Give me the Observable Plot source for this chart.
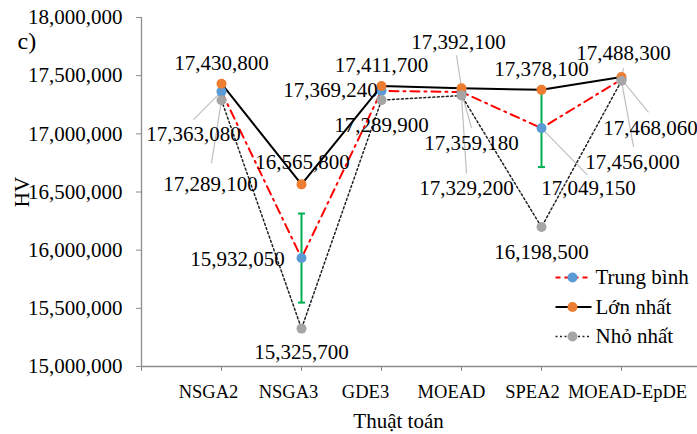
<!DOCTYPE html>
<html>
<head>
<meta charset="utf-8">
<script src="https://cdn.jsdelivr.net/npm/d3@7"></script>
<script src="https://cdn.jsdelivr.net/npm/@observablehq/plot@0.6"></script>
<style>
  html, body { margin: 0; padding: 0; background: #fff; }
  #wrap { position: relative; width: 697px; height: 434px; font-family: "Liberation Serif", serif; }
</style>
</head>
<body>
<div id="wrap"></div>
<script>
// ---- data ----
const categories = ["NSGA2", "NSGA3", "GDE3", "MOEAD", "SPEA2", "MOEAD-EpDE"];
const meanValues = [17363080, 15932050, 17369240, 17359180, 17049150, 17468060];
const maxValues  = [17430800, 16565800, 17411700, 17392100, 17378100, 17488300];
const minValues  = [17289100, 15325700, 17289900, 17329200, 16198500, 17456000];
const meanErrors = [0, 383000, 0, 0, 335000, 0];
const yTicks = [15000000, 15500000, 16000000, 16500000, 17000000, 17500000, 18000000];
const seriesNames = ["Trung bình", "Lớn nhất", "Nhỏ nhất"];
const xTitle = "Thuật toán";
const yTitle = "HV";
const panelTag = "c)";

// ---- layout (pixels) ----
const FONT = "'Liberation Serif', serif";
const W = 697, H = 434, mL = 141, mR = 0, mT = 17, mB = 68;
const xDomain = [-1, 5.95], yDomain = [15000000, 18000000];
const pxX = (W - mL - mR) / (xDomain[1] - xDomain[0]);
const pxY = (H - mT - mB) / (yDomain[1] - yDomain[0]);
const xFromPx = px => xDomain[0] + (px - mL) / pxX;
const yFromPx = py => yDomain[1] - (py - mT) / pxY;
// label centre offsets from their point, [dx, dy] in px
const labelOffMean = [[-28, 43], [-64, 1], [-51, -1], [10, 51], [47, 60], [29, 49]];
const labelOffMax  = [[0, -20], [1, -22], [0, -21], [-3, -46], [0, -21], [2, -24]];
const labelOffMin  = [[-11, 84], [0, 24], [0, 25], [5, 93], [0, 25], [11, 81]];
// leader line ends, [dx, dy] in px (null = no leader)
const leadMean = [[-28, 28], null, null, [10, 36], [46, 47], [27, 33]];
const leadMax  = [null, null, null, [-5, -33], null, [2, -9]];
const leadMin  = [[-10, 63], null, null, [5, 78], null, [12, 66]];
const tickLabelDx = [-13, -13, -16, -10, -9, 6];
// legend layout (px)
const legendRowY = [277, 306.5, 336];
const legendLineX = [555, 591], legendDotX = 572, legendTextX = 595;

const colors = { mean: "#5B9BD5", max: "#ED7D31", min: "#A5A5A5", meanLine: "#FF0000", err: "#00B050", leader: "#BFBFBF", axis: "#8C8C8C" };
const seriesStyle = [
  { line: colors.meanLine, dash: "9,5,2,5", legendDash: "5,4", width: 2, dot: colors.mean },
  { line: "#000", dash: null, legendDash: null, width: 2, dot: colors.max },
  { line: "#222", dash: "2,2.5", legendDash: "2,2.5", width: 1.5, dot: colors.min }
];

const rows = categories.map((c, i) => ({ i, category: c, mean: meanValues[i], max: maxValues[i], min: minValues[i], err: meanErrors[i] }));
const fmt = d3.format(",");

function buildLabels(values, offs) {
  return values.map((v, i) => ({ i, v, dx: offs[i][0], dy: offs[i][1] }));
}
function buildLeaders(values, ends) {
  return values.map((v, i) => ends[i] ? { i, v, ex: ends[i][0], ey: ends[i][1] } : null).filter(d => d);
}
const labels = [
  ...buildLabels(meanValues, labelOffMean),
  ...buildLabels(maxValues, labelOffMax),
  ...buildLabels(minValues, labelOffMin)
];
const leaders = [
  ...buildLeaders(meanValues, leadMean),
  ...buildLeaders(maxValues, leadMax),
  ...buildLeaders(minValues, leadMin)
];
const errRows = rows.filter(d => d.err > 0);
const capHalf = 3.5 / pxX;
const legendRows = seriesNames.map((name, k) => ({ name, k, y: yFromPx(legendRowY[k]), ...seriesStyle[k] }));

const legendMarks = legendRows.flatMap(r => [
  Plot.link([r], { x1: xFromPx(legendLineX[0]), x2: xFromPx(legendLineX[1]), y1: "y", y2: "y", stroke: r.line, strokeWidth: r.width, strokeDasharray: r.legendDash || undefined }),
  Plot.dot([r], { x: xFromPx(legendDotX), y: "y", r: 5, fill: r.dot, stroke: "none" }),
  Plot.text([r], { x: xFromPx(legendTextX), y: "y", text: "name", textAnchor: "start", lineAnchor: "middle", fontSize: 21, fontFamily: FONT, fill: "#000" })
]);

const chart = Plot.plot({
  width: W, height: H,
  marginLeft: mL, marginRight: mR, marginTop: mT, marginBottom: mB,
  x: { type: "linear", domain: xDomain, axis: null, label: null },
  y: { domain: yDomain, axis: null, label: null },
  style: { fontFamily: FONT, background: "#fff", color: "#000", overflow: "visible" },
  marks: [
    // axes
    Plot.ruleX([xDomain[0]], { stroke: colors.axis, strokeWidth: 1.3 }),
    Plot.ruleY([yDomain[0]], { stroke: colors.axis, strokeWidth: 1.3 }),
    Plot.axisY({ ticks: yTicks, tickSize: 5, tickPadding: 14, tickFormat: fmt, fontSize: 21, fontFamily: FONT, stroke: colors.axis, fill: "#000", label: null }),
    Plot.axisX({ ticks: [-1, 0, 1, 2, 3, 4, 5], tickSize: 5, tickFormat: () => "", stroke: colors.axis, label: null }),
    Plot.text(categories, { x: (d, i) => i + tickLabelDx[i] / pxX, frameAnchor: "bottom", dy: 25.5, lineAnchor: "middle", textAnchor: "middle", fontSize: 18.5, fontFamily: FONT, fill: "#000" }),
    Plot.text([xTitle], { frameAnchor: "bottom", dx: -21, dy: 55, lineAnchor: "middle", textAnchor: "middle", fontSize: 21, fontFamily: FONT, fill: "#000" }),
    Plot.text([yTitle], { frameAnchor: "left", dx: -119, dy: 0, rotate: -90, lineAnchor: "middle", textAnchor: "middle", fontSize: 21, fontFamily: FONT, fill: "#000" }),
    Plot.text([panelTag], { frameAnchor: "top-left", dx: -124, dy: 24, lineAnchor: "middle", textAnchor: "start", fontSize: 24, fontFamily: FONT, fill: "#000" }),
    // leader lines
    Plot.link(leaders, { x1: "i", y1: "v", x2: d => d.i + d.ex / pxX, y2: d => d.v - d.ey / pxY, stroke: colors.leader, strokeWidth: 1.2 }),
    // series lines
    Plot.line(rows, { x: "i", y: "mean", stroke: seriesStyle[0].line, strokeWidth: 2, strokeDasharray: seriesStyle[0].dash }),
    Plot.line(rows, { x: "i", y: "max", stroke: seriesStyle[1].line, strokeWidth: 2 }),
    Plot.line(rows, { x: "i", y: "min", stroke: seriesStyle[2].line, strokeWidth: 1.5, strokeDasharray: seriesStyle[2].dash }),
    // error bars
    Plot.link(errRows, { x1: "i", x2: "i", y1: d => d.mean - d.err, y2: d => d.mean + d.err, stroke: colors.err, strokeWidth: 2 }),
    Plot.link(errRows, { x1: d => d.i - capHalf, x2: d => d.i + capHalf, y1: d => d.mean - d.err, y2: d => d.mean - d.err, stroke: colors.err, strokeWidth: 2 }),
    Plot.link(errRows, { x1: d => d.i - capHalf, x2: d => d.i + capHalf, y1: d => d.mean + d.err, y2: d => d.mean + d.err, stroke: colors.err, strokeWidth: 2 }),
    // points
    Plot.dot(rows, { x: "i", y: "mean", r: 5, fill: colors.mean, stroke: "none" }),
    Plot.dot(rows, { x: "i", y: "max", r: 5, fill: colors.max, stroke: "none" }),
    Plot.dot(rows, { x: "i", y: "min", r: 5, fill: colors.min, stroke: "none" }),
    // data labels
    Plot.text(labels, { x: d => d.i + d.dx / pxX, y: d => d.v - d.dy / pxY, text: d => fmt(d.v), fontSize: 21, fontFamily: FONT, fill: "#000", textAnchor: "middle", lineAnchor: "middle" }),
    // legend
    ...legendMarks
  ]
});
document.getElementById("wrap").appendChild(chart);
</script>
</body>
</html>
